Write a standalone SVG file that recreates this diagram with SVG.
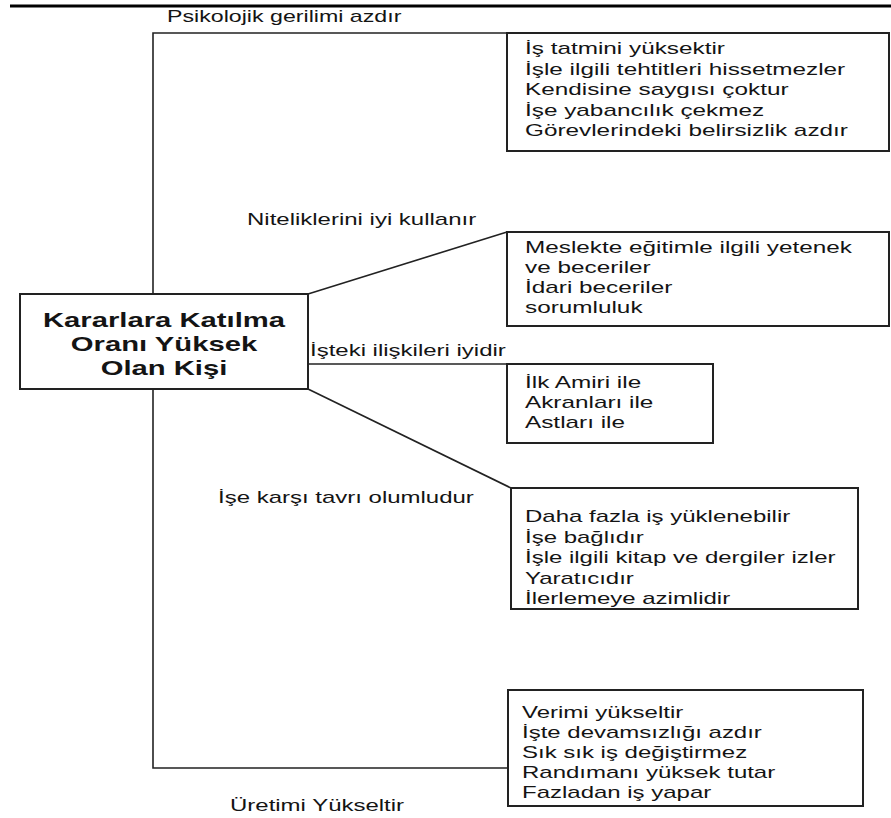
<svg xmlns="http://www.w3.org/2000/svg" width="891" height="818" viewBox="0 0 891 818">
  <style>
    .box { fill: #fff; stroke: #222; stroke-width: 2; }
    .wire { fill: none; stroke: #222; stroke-width: 1.6; }
    text { font-family: "Liberation Sans", Arial, sans-serif; font-size: 16px; fill: #141414; }
    .head { font-size: 19.5px; font-weight: bold; text-anchor: middle; }
  </style>
  <rect width="891" height="818" fill="#fff"/>
  <!-- heavy rule across the top -->
  <line x1="10" y1="6" x2="891" y2="6" stroke="#000" stroke-width="3"/>

  <g id="connectors">
    <polyline class="wire" points="507,33 153,33 153,294"/>
    <line class="wire" x1="308" y1="294" x2="507" y2="232"/>
    <line class="wire" x1="308" y1="364" x2="507" y2="364"/>
    <line class="wire" x1="308" y1="389" x2="511" y2="488"/>
    <polyline class="wire" points="153,389 153,768 508,768"/>
  </g>

  <g id="labels">
    <text transform="translate(167 22) scale(1.45 1)">Psikolojik gerilimi azdır</text>
    <text transform="translate(247 225) scale(1.5 1)">Niteliklerini iyi kullanır</text>
    <text transform="translate(310 356) scale(1.5 1)">İşteki ilişkileri iyidir</text>
    <text transform="translate(218 503) scale(1.5 1)">İşe karşı tavrı olumludur</text>
    <text transform="translate(230 811) scale(1.5 1)">Üretimi Yükseltir</text>
  </g>

  <g id="center">
    <rect class="box" x="20" y="294" width="288" height="95"/>
    <text class="head" transform="translate(164 327) scale(1.5 1)">Kararlara Katılma</text>
    <text class="head" transform="translate(164 351) scale(1.5 1)">Oranı Yüksek</text>
    <text class="head" transform="translate(164 375) scale(1.5 1)">Olan Kişi</text>
  </g>

  <g id="psikolojik">
    <rect class="box" x="507" y="33" width="382" height="118"/>
    <text transform="translate(525 54) scale(1.52 1)">İş tatmini yüksektir</text>
    <text transform="translate(525 74.5) scale(1.52 1)">İşle ilgili tehtitleri hissetmezler</text>
    <text transform="translate(525 95) scale(1.52 1)">Kendisine saygısı çoktur</text>
    <text transform="translate(525 115.5) scale(1.52 1)">İşe yabancılık çekmez</text>
    <text transform="translate(525 136) scale(1.52 1)">Görevlerindeki belirsizlik azdır</text>
  </g>

  <g id="nitelikler">
    <rect class="box" x="507" y="232" width="382" height="94"/>
    <text transform="translate(525 253) scale(1.52 1)">Meslekte eğitimle ilgili yetenek</text>
    <text transform="translate(525 273) scale(1.52 1)">ve beceriler</text>
    <text transform="translate(525 293) scale(1.52 1)">İdari beceriler</text>
    <text transform="translate(525 313) scale(1.52 1)">sorumluluk</text>
  </g>

  <g id="iliskiler">
    <rect class="box" x="507" y="364" width="206" height="79"/>
    <text transform="translate(525 388) scale(1.52 1)">İlk Amiri ile</text>
    <text transform="translate(525 408) scale(1.52 1)">Akranları ile</text>
    <text transform="translate(525 428) scale(1.52 1)">Astları ile</text>
  </g>

  <g id="tavir">
    <rect class="box" x="511" y="488" width="347" height="121"/>
    <text transform="translate(525 522) scale(1.5 1)">Daha fazla iş yüklenebilir</text>
    <text transform="translate(525 542.5) scale(1.5 1)">İşe bağlıdır</text>
    <text transform="translate(525 563) scale(1.5 1)">İşle ilgili kitap ve dergiler izler</text>
    <text transform="translate(525 583.5) scale(1.5 1)">Yaratıcıdır</text>
    <text transform="translate(525 604) scale(1.5 1)">İlerlemeye azimlidir</text>
  </g>

  <g id="uretim">
    <rect class="box" x="508" y="690" width="355" height="116"/>
    <text transform="translate(522 718) scale(1.5 1)">Verimi yükseltir</text>
    <text transform="translate(522 738) scale(1.5 1)">İşte devamsızlığı azdır</text>
    <text transform="translate(522 758) scale(1.5 1)">Sık sık iş değiştirmez</text>
    <text transform="translate(522 778) scale(1.5 1)">Randımanı yüksek tutar</text>
    <text transform="translate(522 798) scale(1.5 1)">Fazladan iş yapar</text>
  </g>
</svg>
